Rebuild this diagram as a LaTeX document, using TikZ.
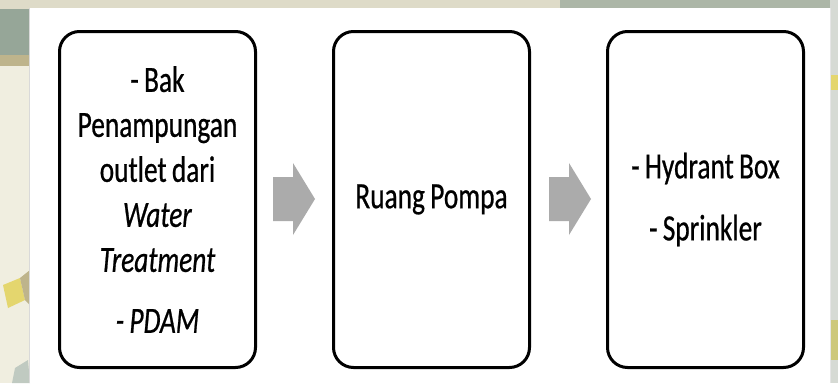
\documentclass[tikz,border=0pt]{standalone}
\usepackage{fontspec}
\setmainfont{Carlito}[FakeStretch=0.74,FakeBold=0.6,WordSpace={0.85,0.3,0.3}]
\usetikzlibrary{calc}
\definecolor{bgbeige}{RGB}{240,238,224}
\definecolor{bgtop}{RGB}{222,219,200}
\definecolor{bggreen}{RGB}{150,166,152}
\definecolor{bgtan}{RGB}{190,180,140}
\definecolor{bgyellow}{RGB}{228,214,110}
\definecolor{bgright}{RGB}{214,218,212}
\definecolor{arrowgray}{RGB}{171,171,171}
\begin{document}
\begin{tikzpicture}[x=1pt,y=-1pt,
  stepbox/.style={draw=black, line width=3pt, rounded corners=20pt, fill=white,
    minimum width=196pt, minimum height=336pt, inner sep=0pt, align=center,
    font=\fontsize{37}{45}\selectfont},
  blockarrow/.style={fill=arrowgray}]
\useasboundingbox (0,0) rectangle (838,383);
% background texture (approximate)
\fill[bgbeige] (0,0) rectangle (838,383);
\fill[bgtop] (0,0) rectangle (838,9);
\fill[bggreen!70!bgtop] (560,0) rectangle (838,9);
\fill[bggreen] (0,9) rectangle (30,55);
\fill[bgtan] (0,55) rectangle (30,66);
\fill[bgright] (830,0) rectangle (838,383);
\fill[bgyellow] (830,75) rectangle (838,90);
\fill[bgyellow!70!bggreen] (830,320) rectangle (838,360);
\fill[bgyellow] (3,285) -- (20,278) -- (25,300) -- (8,308) -- cycle;
\fill[bgtan] (20,278) -- (30,270) -- (30,305) -- (25,300) -- cycle;
\fill[bggreen!60!white] (15,368) -- (28,360) -- (30,383) -- (12,383) -- cycle;
% white panel
\fill[white] (30,8) rectangle (830,383);
\draw[black!15, line width=1pt] (29.5,8) -- (29.5,383);
\draw[black!10, line width=1pt] (830.5,8) -- (830.5,383);
% boxes
\node[stepbox] (b1) at (157.5,199.5) {- Bak\\Penampungan\\outlet dari\\\textit{Water}\\\textit{Treatment}\\[16pt]\textit{- PDAM}};
\node[stepbox] (b2) at (431.5,199.5) {Ruang Pompa};
\node[stepbox] (b3) at (705.5,199.5) {- Hydrant Box\\[17pt]- Sprinkler};
% block arrows
\coordinate (m1) at (294,199);
\coordinate (m2) at (570,199);
\foreach \m in {m1,m2}{
  \fill[blockarrow] ($(\m)+(-21,-22)$) -- ($(\m)+(-1,-22)$) -- ($(\m)+(-1,-36)$)
    -- ($(\m)+(21,0)$) -- ($(\m)+(-1,36)$) -- ($(\m)+(-1,22)$) -- ($(\m)+(-21,22)$) -- cycle;
}
\end{tikzpicture}
\end{document}
